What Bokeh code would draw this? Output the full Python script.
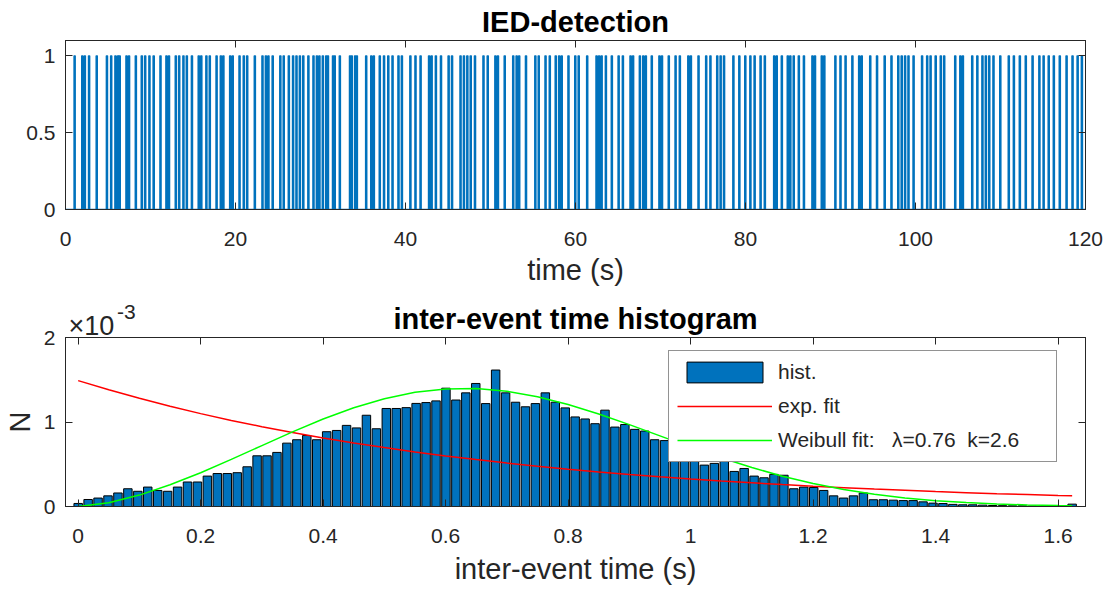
from bokeh.plotting import figure
from bokeh.layouts import column
from bokeh.models import (Range1d, FixedTicker, LinearAxis, Legend, LegendItem,
                          CustomJSTickFormatter)
from bokeh.embed import file_html
from bokeh.resources import INLINE

# ---------------- data ----------------
# IED event times (s)
event_times = [
    1.0, 1.9, 2.2, 2.7, 3.6, 4.8, 5.3, 5.8, 6.1, 6.3, 7.1, 7.4, 8.2, 8.9, 9.3, 9.8,
    10.3, 11.1, 11.8, 12.1, 12.9, 13.3, 13.8, 14.2, 14.8, 15.6, 15.9, 16.5, 16.9,
    17.7, 18.2, 18.5, 19.3, 19.6, 20.4, 20.9, 21.3, 22.2, 23.1, 23.5, 23.8, 24.3,
    25.2, 25.6, 26.2, 26.7, 27.1, 27.5, 27.9, 28.5, 29.1, 29.5, 29.8, 30.2, 30.6,
    30.8, 31.4, 31.6, 32.2, 33.4, 33.6, 34.0, 34.2, 35.3, 35.9, 36.2, 36.9, 37.4,
    37.9, 38.4, 39.1, 39.5, 40.5,
    41.1, 41.7, 42.7, 43.0, 43.5, 44.1, 45.0, 45.4, 46.4, 46.8, 47.2, 47.6, 48.1,
    49.1, 49.6, 50.5, 50.8, 51.6, 52.6, 53.0, 53.3, 54.1, 55.2, 55.6, 56.4, 56.9,
    57.6, 58.0, 58.3, 59.1, 59.9, 60.3, 61.3, 62.4, 62.7, 63.0, 63.5, 64.2, 65.0,
    65.5, 66.4, 66.7, 67.5, 67.9, 68.2, 68.9, 69.8, 70.1, 70.9, 71.7, 72.2, 73.2,
    73.5, 74.4, 75.3, 75.8, 76.6, 77.0, 77.4, 78.5, 79.2, 79.9,
    80.5, 81.0, 81.7, 82.2, 83.3, 83.6, 84.2, 84.9, 85.2, 85.6, 86.2, 86.8, 87.8,
    88.1, 88.9, 89.2, 90.5, 91.1, 91.7, 92.5, 93.3, 93.6, 94.6, 95.4, 96.3, 97.1,
    97.9, 98.3, 98.7, 99.1, 99.7, 100.7, 101.3, 101.7, 102.3, 102.9, 103.3, 104.6,
    105.2, 105.5, 106.6, 107.2, 107.8, 108.2, 108.6, 109.1, 109.9, 110.9, 111.5,
    112.2, 112.9, 113.7, 114.5, 115.0, 115.6, 116.2, 116.9, 117.7, 118.4, 119.0,
    119.5,
]
record_start = 0.0
record_end = 120.0
pulse_width = 0.15

# histogram of inter-event times, N in units of 1e-3
hist_values_e3 = [
    0.036, 0.083, 0.10, 0.126, 0.16, 0.21, 0.18, 0.23, 0.19, 0.18,
    0.23, 0.29, 0.29, 0.36, 0.39, 0.39, 0.40, 0.47, 0.60, 0.60,
    0.64, 0.75, 0.79, 0.84, 0.79, 0.885, 0.90, 0.96, 0.93, 1.08,
    0.92, 1.16, 1.16, 1.17, 1.22, 1.23, 1.25, 1.40, 1.26, 1.345,
    1.456, 1.218, 1.615, 1.345, 1.234, 1.18, 1.218, 1.345, 1.234, 1.167,
    1.06, 1.036, 0.98, 1.14, 0.94, 0.97, 0.913, 0.893, 0.79, 0.78,
    0.66, 0.62, 0.58, 0.49, 0.51, 0.55, 0.415, 0.45, 0.36, 0.34,
    0.38, 0.37, 0.21, 0.23, 0.225, 0.19, 0.126, 0.10, 0.126, 0.16,
    0.08, 0.08, 0.075, 0.07, 0.07, 0.055, 0.04, 0.035, 0.025, 0.02,
    0.02, 0.016, 0.012, 0.01, 0.008, 0.008, 0.005, 0.0, 0.0, 0.0,
    0.028,
]
bin_width = 0.01623
bin_centers = [round(i * bin_width, 5) for i in range(len(hist_values_e3))]

fit_x = [0.0, 0.05, 0.1, 0.15, 0.2, 0.25, 0.3, 0.35, 0.4, 0.45, 0.5, 0.55, 0.6,
         0.65, 0.7, 0.75, 0.8, 0.85, 0.9, 0.95, 1.0, 1.05, 1.1, 1.15, 1.2, 1.25,
         1.3, 1.35, 1.4, 1.45, 1.5, 1.55, 1.6, 1.623]
exp_fit_e3 = [1.490, 1.381, 1.280, 1.186, 1.099, 1.019, 0.944, 0.875, 0.811, 0.752,
              0.697, 0.646, 0.598, 0.555, 0.514, 0.476, 0.441, 0.409, 0.379, 0.351,
              0.326, 0.302, 0.280, 0.259, 0.240, 0.223, 0.206, 0.191, 0.177, 0.164,
              0.152, 0.141, 0.131, 0.127]
weibull_fit_e3 = [0.0, 0.045, 0.135, 0.257, 0.400, 0.557, 0.721, 0.883, 1.035, 1.168,
                  1.275, 1.351, 1.391, 1.396, 1.364, 1.300, 1.208, 1.095, 0.969, 0.836,
                  0.703, 0.577, 0.462, 0.359, 0.273, 0.202, 0.145, 0.102, 0.069, 0.046,
                  0.030, 0.018, 0.011, 0.009]

top_xticks = [0, 20, 40, 60, 80, 100, 120]
top_yticks = [0, 0.5, 1]
bot_xticks = [0, 0.2, 0.4, 0.6, 0.8, 1, 1.2, 1.4, 1.6]
bot_yticks = [0, 1, 2]
exponent_base = "×10"
exponent_power = "-3"

# ---------------- style ----------------
FONT = "Liberation Sans"
AX = "#262626"
BLUE = "#0072BD"
TICK_PX = "21px"
LABEL_PX = "29px"

fmt = CustomJSTickFormatter(code="return tick.toString();")


def style_axis(ax, ticks, show_labels=True, standoff=10):
    ax.ticker = FixedTicker(ticks=ticks)
    ax.formatter = fmt
    ax.major_tick_in = 7
    ax.major_tick_out = 0
    ax.minor_tick_in = 0
    ax.minor_tick_out = 0
    ax.axis_line_color = AX
    ax.major_tick_line_color = AX
    ax.major_label_text_font = FONT
    ax.major_label_text_color = AX
    ax.axis_label_text_font = FONT
    ax.axis_label_text_color = AX
    ax.axis_label_text_font_style = "normal"
    ax.axis_label_text_font_size = LABEL_PX
    if show_labels:
        ax.major_label_text_font_size = TICK_PX
        ax.major_label_standoff = standoff
    else:
        ax.major_label_text_font_size = "1px"
        ax.major_label_text_color = None
        ax.major_label_standoff = 0


def text_axis(label, tick_pos, size, standoff):
    # axis used only to place a piece of text above the frame
    ax = LinearAxis(ticker=FixedTicker(ticks=[tick_pos]),
                    formatter=CustomJSTickFormatter(code="return %r;" % label))
    ax.major_tick_in = 0
    ax.major_tick_out = 0
    ax.minor_tick_in = 0
    ax.minor_tick_out = 0
    ax.axis_line_color = None
    ax.major_tick_line_color = None
    ax.major_label_text_font = FONT
    ax.major_label_text_font_size = size
    ax.major_label_text_color = AX
    ax.major_label_standoff = standoff
    return ax


def make_fig(height, top, bottom, xr, yr, title, title_standoff):
    p = figure(width=1106, height=height, x_range=xr, y_range=yr,
               output_backend="svg", toolbar_location=None,
               min_border_left=62, min_border_right=21,
               min_border_top=top, min_border_bottom=bottom)
    p.xgrid.visible = False
    p.ygrid.visible = False
    p.outline_line_color = AX
    p.outline_line_width = 1
    p.title.text = title
    p.title.align = "center"
    p.title.text_font = FONT
    p.title.text_font_size = LABEL_PX
    p.title.text_font_style = "bold"
    p.title.text_color = "#000000"
    p.title.standoff = title_standoff
    return p


# ---------------- top panel ----------------
sig_x = [record_start]
sig_y = [0]
for t in event_times:
    sig_x += [t, t, t + pulse_width, t + pulse_width]
    sig_y += [0, 1, 1, 0]
sig_x.append(record_end)
sig_y.append(0)

p1 = make_fig(292, 40, 83, Range1d(0, 120), Range1d(0, 1.1), "IED-detection", 5)
p1.line(sig_x, sig_y, line_color=BLUE, line_width=1.3)
style_axis(p1.xaxis[0], top_xticks, standoff=22)
style_axis(p1.yaxis[0], top_yticks, standoff=10)
p1.xaxis[0].axis_label = "time (s)"
p1.xaxis[0].axis_label_standoff = 5
ax_top = LinearAxis()
style_axis(ax_top, top_xticks, False)
p1.add_layout(ax_top, "above")
ax_right = LinearAxis()
style_axis(ax_right, top_yticks, False)
p1.add_layout(ax_right, "right")

# ---------------- bottom panel ----------------
p2 = make_fig(297, 45, 83, Range1d(-0.0207, 1.6448), Range1d(0, 2),
              "inter-event time histogram", -67)
r_hist = p2.vbar(x=bin_centers, top=hist_values_e3, width=0.85 * bin_width,
                 bottom=0, fill_color=BLUE, line_color="black", line_width=1)
r_exp = p2.line(fit_x, exp_fit_e3, line_color="#FF0000", line_width=1.5)
r_wb = p2.line(fit_x, weibull_fit_e3, line_color="#00FF00", line_width=1.5)
style_axis(p2.xaxis[0], bot_xticks, standoff=22)
style_axis(p2.yaxis[0], bot_yticks, standoff=10)
p2.xaxis[0].axis_label = "inter-event time (s)"
p2.xaxis[0].axis_label_standoff = 7
p2.yaxis[0].axis_label = "N"
p2.yaxis[0].axis_label_standoff = 5
ax_top2 = LinearAxis()
style_axis(ax_top2, bot_xticks, False)
p2.add_layout(ax_top2, "above")
p2.add_layout(text_axis(exponent_base, 0.0217, "27px", -3), "above")
p2.add_layout(text_axis(exponent_power, 0.0788, "21px", -11), "above")
ax_right2 = LinearAxis()
style_axis(ax_right2, bot_yticks, False)
p2.add_layout(ax_right2, "right")

legend = Legend(items=[
    LegendItem(label="hist.", renderers=[r_hist]),
    LegendItem(label="exp. fit", renderers=[r_exp]),
    LegendItem(label="Weibull fit:   λ=0.76  k=2.6     ", renderers=[r_wb]),
], location=(603, 44))
legend.glyph_width = 95
legend.glyph_height = 26
legend.label_height = 26
legend.spacing = 8
legend.padding = 8
legend.margin = 0
legend.label_standoff = 6
legend.label_text_font = FONT
legend.label_text_font_size = "21px"
legend.label_text_color = AX
legend.border_line_color = AX
legend.border_line_width = 1
legend.background_fill_alpha = 1.0
p2.add_layout(legend)

layout = column(p1, p2, spacing=0)
open("out.html", "w").write(file_html(layout, INLINE))
